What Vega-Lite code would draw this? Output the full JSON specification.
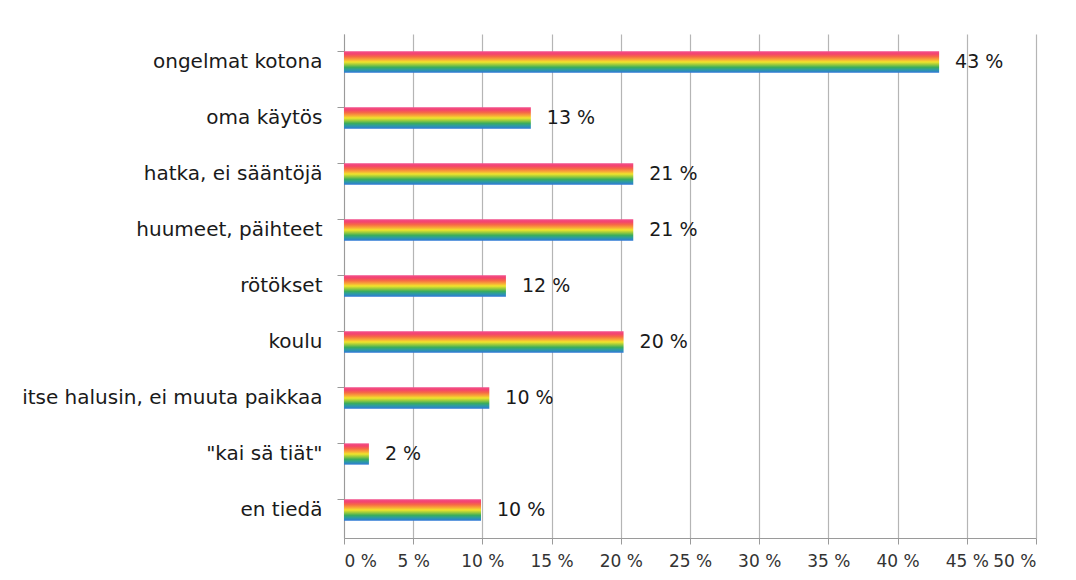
{
  "$schema": "https://vega.github.io/schema/vega-lite/v6.json",
  "autosize": {"type": "none"},
  "width": 692,
  "height": 504,
  "padding": {"left": 344, "top": 34, "right": 40, "bottom": 42},
  "background": "white",
  "config": {
    "view": {"stroke": null},
    "font": "DejaVu Sans",
    "text": {"font": "DejaVu Sans"}
  },
  "data": {
    "values": [
      {"syy": "ongelmat kotona", "arvo": 43.0, "teksti": "43 %"},
      {"syy": "oma käytös", "arvo": 13.5, "teksti": "13 %"},
      {"syy": "hatka, ei sääntöjä", "arvo": 20.9, "teksti": "21 %"},
      {"syy": "huumeet, päihteet", "arvo": 20.9, "teksti": "21 %"},
      {"syy": "rötökset", "arvo": 11.7, "teksti": "12 %"},
      {"syy": "koulu", "arvo": 20.2, "teksti": "20 %"},
      {"syy": "itse halusin, ei muuta paikkaa", "arvo": 10.5, "teksti": "10 %"},
      {"syy": "\"kai sä tiät\"", "arvo": 1.8, "teksti": "2 %"},
      {"syy": "en tiedä", "arvo": 9.9, "teksti": "10 %"}
    ]
  },
  "encoding": {
    "y": {
      "field": "syy",
      "type": "nominal",
      "sort": null,
      "title": null,
      "scale": {"paddingInner": 0.62, "paddingOuter": 0.31},
      "axis": {
        "bandPosition": 0,
        "domainColor": "#9a9a9a",
        "tickColor": "#9a9a9a",
        "tickSize": 7,
        "labelFontSize": 20,
        "labelColor": "#1a1a1a",
        "labelPadding": 15,
        "labelFont": "DejaVu Sans",
        "labelLimit": 340
      }
    },
    "x": {
      "field": "arvo",
      "type": "quantitative",
      "title": null,
      "scale": {"domain": [0, 50], "nice": false},
      "axis": {
        "values": [0, 5, 10, 15, 20, 25, 30, 35, 40, 45, 50],
        "labelExpr": "datum.value + ' %'",
        "grid": true,
        "gridColor": "#b5b5b5",
        "gridWidth": 1.2,
        "domainColor": "#9a9a9a",
        "tickColor": "#9a9a9a",
        "tickSize": 6,
        "labelFontSize": 17,
        "labelColor": "#333333",
        "labelPadding": 9,
        "labelFont": "DejaVu Sans"
      }
    }
  },
  "layer": [
    {
      "mark": {
        "type": "bar",
        "color": {
          "gradient": "linear",
          "x1": 0, "y1": 0, "x2": 0, "y2": 1,
          "stops": [
            {"offset": 0.0, "color": "#f2508c"},
            {"offset": 0.12, "color": "#f3436e"},
            {"offset": 0.25, "color": "#f66a45"},
            {"offset": 0.38, "color": "#f8a538"},
            {"offset": 0.5, "color": "#f2e42c"},
            {"offset": 0.62, "color": "#9ccb3c"},
            {"offset": 0.75, "color": "#3aad5c"},
            {"offset": 0.87, "color": "#2c9aa6"},
            {"offset": 1.0, "color": "#2f78d6"}
          ]
        }
      }
    },
    {
      "mark": {
        "type": "text",
        "align": "left",
        "baseline": "middle",
        "dx": 16,
        "fontSize": 19,
        "color": "#1a1a1a",
        "font": "DejaVu Sans"
      },
      "encoding": {"text": {"field": "teksti"}}
    }
  ]
}
